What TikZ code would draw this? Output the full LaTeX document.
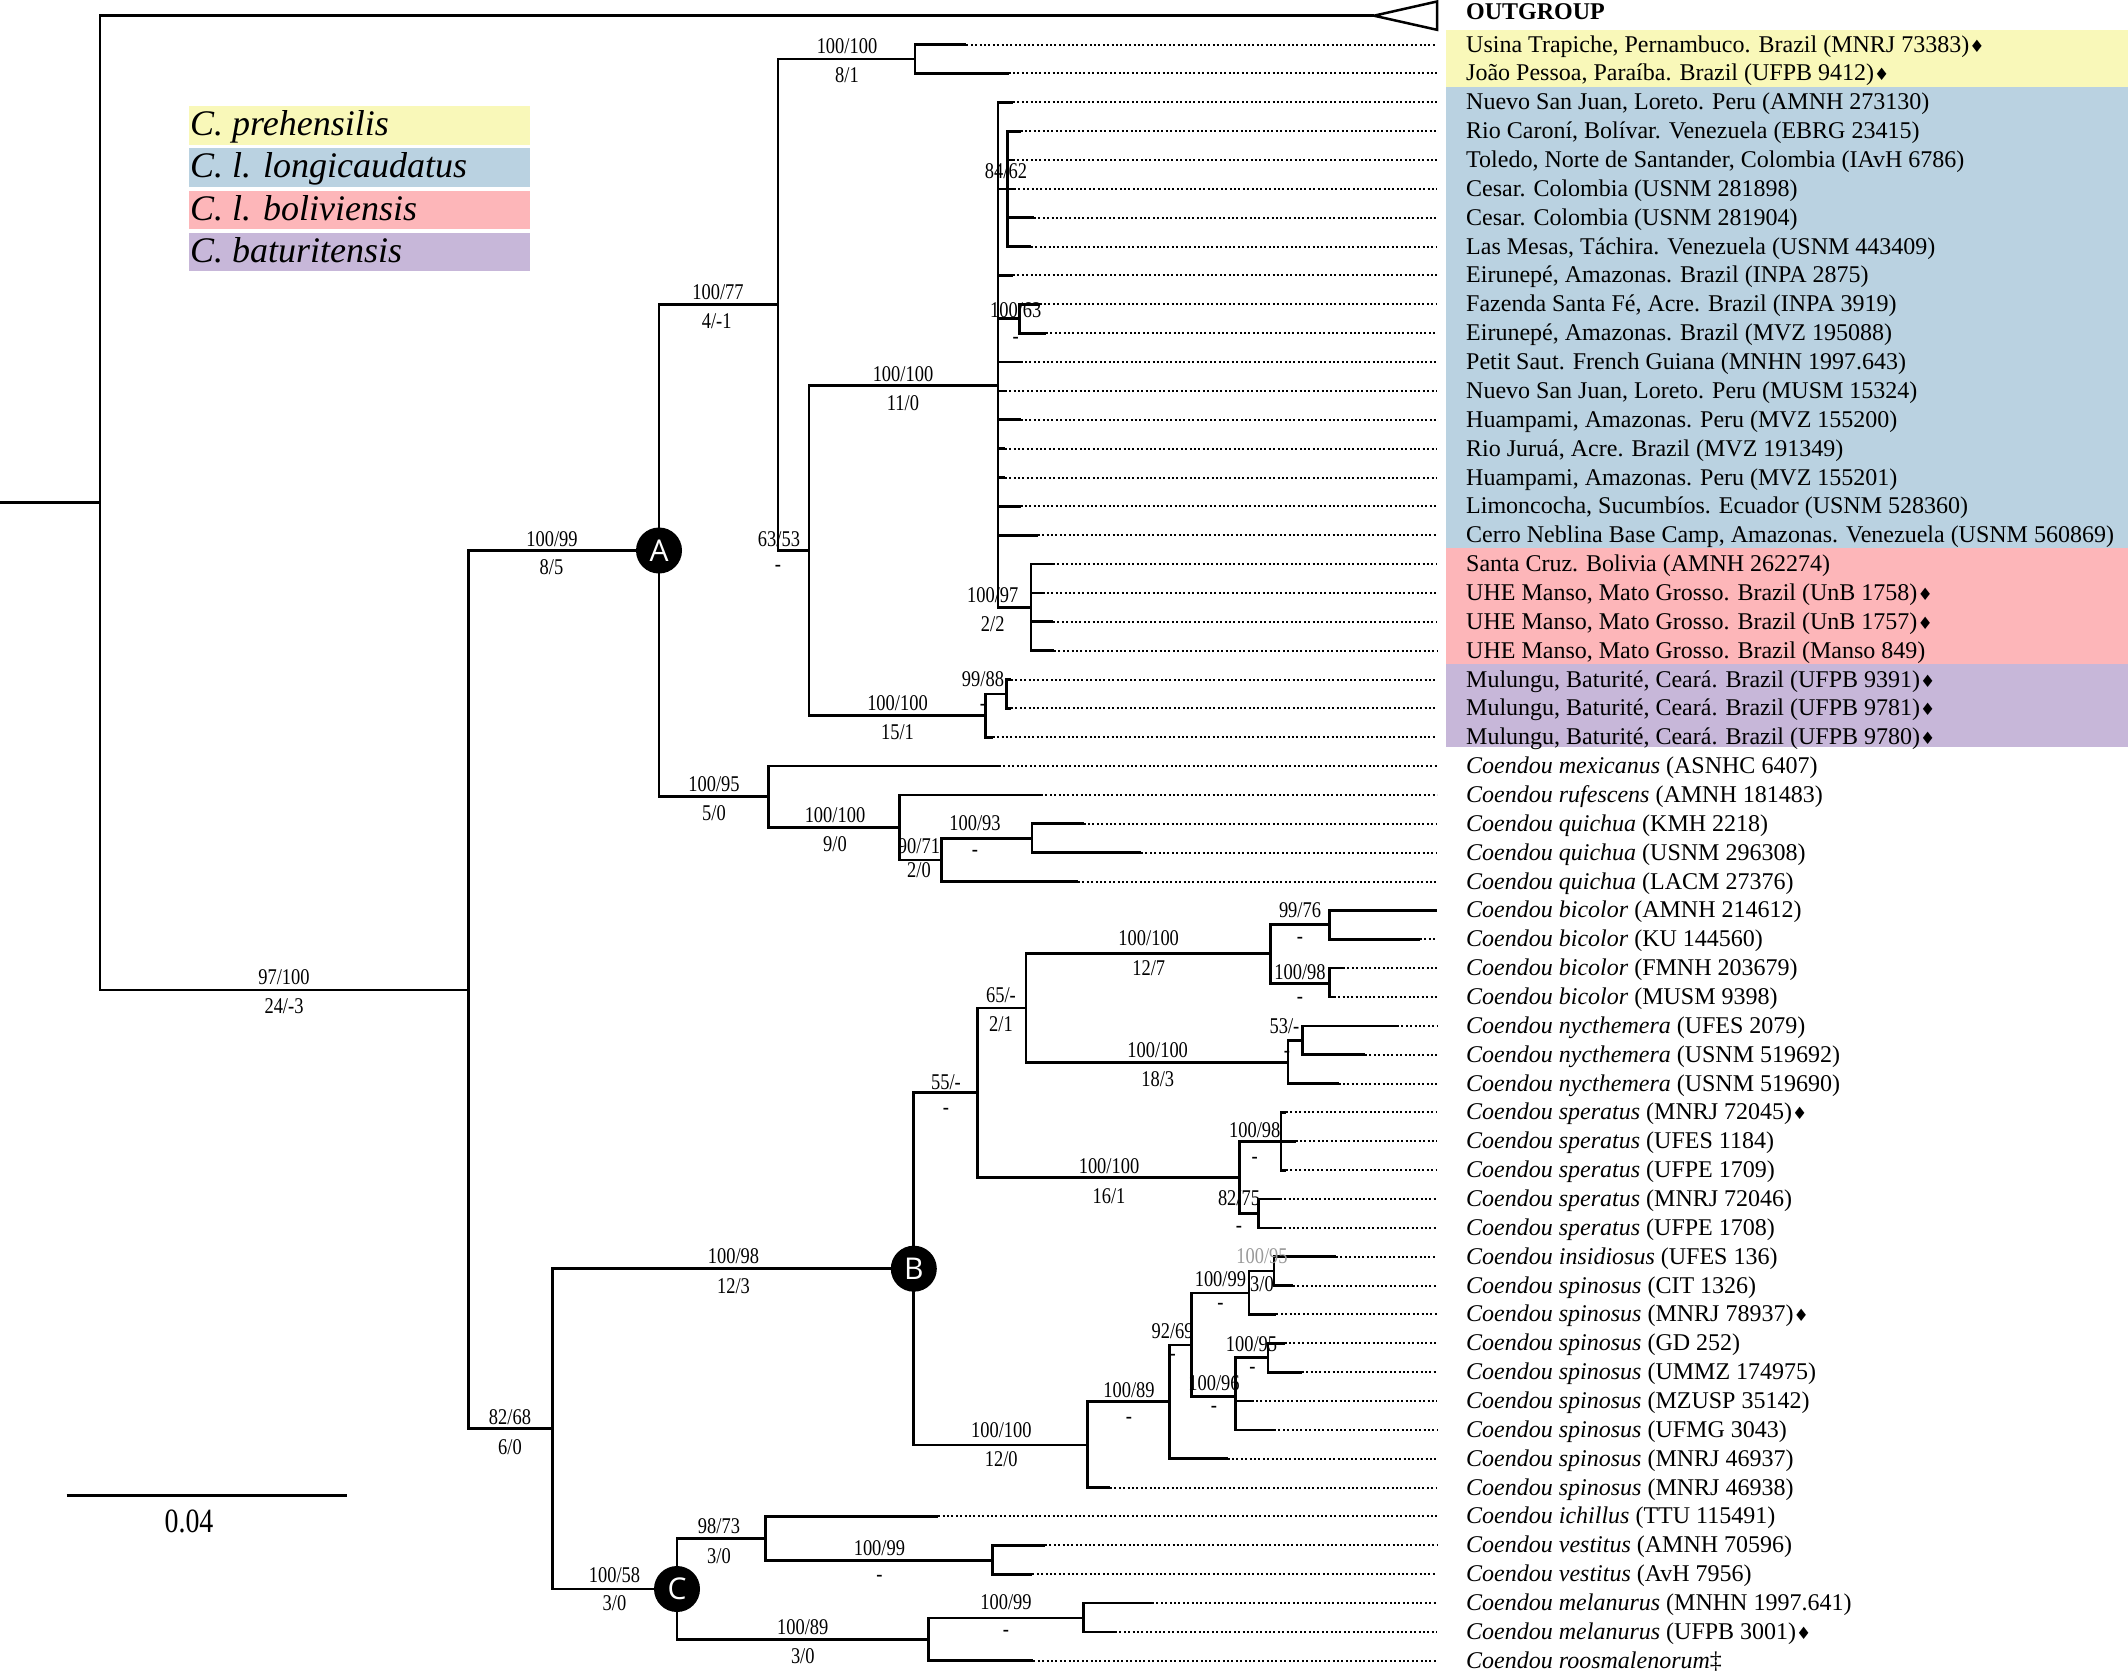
\documentclass[tikz,border=0pt]{standalone}
\usepackage{fontspec}
\setmainfont{Liberation Serif}
\newfontfamily\supf[FakeStretch=0.82]{Liberation Serif}
\newfontfamily\circf{Open Sans}
\newfontfamily\djv{DejaVu Sans}
\newcommand\dmd{{\djv\fontsize{17}{17}\selectfont ♦}}
\newcommand\ry[1]{44.6+28.86*(#1-1)}
\definecolor{cyel}{HTML}{F9F8B9}
\definecolor{cblu}{HTML}{BAD2E1}
\definecolor{cpnk}{HTML}{FDB6B9}
\definecolor{cpur}{HTML}{C7B7D9}
\tikzset{
  br/.style={line width=2.7pt, line join=miter},
  leader/.style={line width=2pt, dash pattern=on 2pt off 2.4pt},
  sup/.style={font=\supf\fontsize{22.5}{24}\selectfont, inner sep=0pt},
  tax/.style={font=\fontsize{24}{28}\selectfont, anchor=base west, inner sep=0pt},
  leg/.style={font=\itshape\fontsize{36}{40}\selectfont, anchor=base west, inner sep=0pt},
  legbox/.style={minimum width=341pt, minimum height=38.6pt, inner sep=0pt, draw=none},
  circ/.style={circle, fill=black, minimum size=46pt, inner sep=0pt, text=white, font=\circf\fontsize{30}{30}\selectfont}
}
\begin{document}
\begin{tikzpicture}[x=1pt,y=-1pt]
\useasboundingbox (0,0) rectangle (2128,1675);
% colour bands
\fill[cyel] (1446,30) rectangle (2128,87);
\fill[cblu] (1446,87) rectangle (2128,548);
\fill[cpnk] (1446,548) rectangle (2128,664);
\fill[cpur] (1446,664) rectangle (2128,747);
% legend
\node[legbox, fill=cyel] (lgP) at (359.5,125.3) {};
\node[legbox, fill=cblu] (lgL) at (359.5,167.5) {};
\node[legbox, fill=cpnk] (lgB) at (359.5,210) {};
\node[legbox, fill=cpur] (lgT) at (359.5,252) {};
\node[leg] (lgPt) at (190,135.7) {C. prehensilis};
\node[leg] (lgLt) at (190,177.9) {C. l. longicaudatus};
\node[leg] (lgBt) at (190,220.4) {C. l. boliviensis};
\node[leg] (lgTt) at (190,262.4) {C. baturitensis};
% internal nodes
\coordinate (base) at (0,502.8);
\coordinate (root) at (100,502.8);
\coordinate (og) at (1374,15.7);
\coordinate (nI) at (468.6,990);
\coordinate (nA) at (659,550.5);
\coordinate (n77) at (778,304.5);
\coordinate (nPre) at (915,59);
\coordinate (n53) at (809,550.5);
\coordinate (nLong) at (998,385.6);
\coordinate (n8462) at (1007.5,{\ry{6}});
\coordinate (n10063) at (1019.5,318.8);
\coordinate (n97) at (1031,607.4);
\coordinate (nBat) at (985.5,715.4);
\coordinate (n9988) at (1006.6,693.9);
\coordinate (n95) at (768.4,796.5);
\coordinate (nQ1) at (899.5,827.4);
\coordinate (n9071) at (941.5,860);
\coordinate (n10093) at (1032,838.6);
\coordinate (nBC) at (552.4,1428.7);
\coordinate (nB) at (913.8,1268.7);
\coordinate (n55) at (977.4,1092.7);
\coordinate (n65) at (1026,1008);
\coordinate (n127) at (1270.6,953.5);
\coordinate (n9976) at (1329.5,924.8);
\coordinate (n10098b) at (1329.5,983.3);
\coordinate (n183) at (1288,1062.5);
\coordinate (n53b) at (1302.7,1040.2);
\coordinate (n161) at (1239.5,1177.4);
\coordinate (n10098c) at (1281,{\ry{39}});
\coordinate (n8275) at (1258.7,1213.5);
\coordinate (n120) at (1087.4,1445);
\coordinate (n10089) at (1169.7,1401.8);
\coordinate (n9269) at (1191.7,1345);
\coordinate (n10099b) at (1249,1293);
\coordinate (n10095g) at (1274,1271);
\coordinate (n10096) at (1235.7,1396.8);
\coordinate (n10095) at (1268,1357.7);
\coordinate (nC) at (677,1589);
\coordinate (n9873) at (765.5,1538.5);
\coordinate (n10099c) at (992.7,1560.4);
\coordinate (n10089c) at (928.6,1639.5);
\coordinate (n10099d) at (1083.6,1618);
% tips and dotted leaders
\foreach \k/\x in {1/966.4,2/1008.5,3/1013,4/1020.5,5/1013,6/1014,7/1034,8/1031,9/1013,10/1039.6,11/1046,12/1020.5,13/1004.7,14/1020.5,15/1004.7,16/1004.7,17/1020.5,18/1037.7,19/1053,20/1042.5,21/1053,22/1054,23/1011,24/1011,25/992.7,26/999,27/1041,28/1083.6,29/1141,30/1078,31/1437,32/1420,33/1343,34/1333.7,35/1397,36/1365,37/1338.5,38/1286,39/1295.5,40/1286,41/1279.7,42/1279.7,43/1336,44/1293,45/1276.4,46/1284.5,47/1301.7,48/1251.5,49/1274,50/1227.6,51/1110,52/938.2,53/1045,54/1032.4,55/1152,56/1115,57/1033.4}{
  \coordinate (t\k) at (\x,{\ry{\k}});
  \coordinate (e\k) at (1437,{\ry{\k}});
  \draw[leader] (t\k) -- (e\k);
}
% branches
\draw[br] (base) -- (root);
\foreach \p/\c in {root/og,root/nI,nI/nA,nI/nBC,nA/n77,nA/n95,n77/nPre,n77/n53,nPre/t1,nPre/t2,
  n53/nLong,n53/nBat,nLong/t3,nLong/n8462,nLong/t9,nLong/n10063,nLong/t12,nLong/t13,nLong/t14,nLong/t15,nLong/t16,nLong/t17,nLong/t18,nLong/n97,
  n8462/t4,n8462/t5,n8462/t6,n8462/t7,n8462/t8,n10063/t10,n10063/t11,n97/t19,n97/t20,n97/t21,n97/t22,
  nBat/n9988,nBat/t25,n9988/t23,n9988/t24,n95/t26,n95/nQ1,nQ1/t27,nQ1/n9071,n9071/n10093,n9071/t30,n10093/t28,n10093/t29,
  nBC/nB,nBC/nC,nB/n55,nB/n120,n55/n65,n55/n161,n65/n127,n65/n183,n127/n9976,n127/n10098b,n9976/t31,n9976/t32,n10098b/t33,n10098b/t34,
  n183/n53b,n183/t37,n53b/t35,n53b/t36,n161/n10098c,n161/n8275,n10098c/t38,n10098c/t39,n10098c/t40,n8275/t41,n8275/t42,
  n120/n10089,n120/t51,n10089/n9269,n10089/t50,n9269/n10099b,n9269/n10096,n10099b/n10095g,n10099b/t45,n10095g/t43,n10095g/t44,
  n10096/n10095,n10096/t48,n10096/t49,n10095/t46,n10095/t47,
  nC/n9873,nC/n10089c,n9873/t52,n9873/n10099c,n10099c/t53,n10099c/t54,n10089c/n10099d,n10089c/t57,n10099d/t55,n10099d/t56}{
  \draw[br] (\p) |- (\c);
}
% outgroup triangle
\coordinate (ogT) at (1437,1.5);
\coordinate (ogB) at (1437,29.8);
\draw[line width=2.5pt, line join=miter, fill=white] (og) -- (ogT) -- (ogB) -- cycle;
% clade circles
\node[circ] (cA) at (nA) {A};
\node[circ] (cB) at (nB) {B};
\node[circ] (cC) at (nC) {C};
% scale bar
\coordinate (sb1) at (66.6,1495.5);
\coordinate (sb2) at (346.8,1495.5);
\draw[line width=2.7pt] (sb1) -- (sb2);
\node[sup, font=\supf\fontsize{34}{36}\selectfont] (sbl) at (189,1521) {0.04};
% support values
\node[sup] (s1) at (284,977) {97/100};
\node[sup] (s2) at (284,1006) {24/-3};
\node[sup] (s3) at (552,539) {100/99};
\node[sup] (s4) at (551.5,567.5) {8/5};
\node[sup] (s5) at (718,292.5) {100/77};
\node[sup] (s6) at (716.7,321.5) {4/-1};
\node[sup] (s7) at (847,46.4) {100/100};
\node[sup] (s8) at (847,75) {8/1};
\node[sup] (s9) at (779,539) {63/53};
\node[sup] (s10) at (778,568) {-};
\node[sup] (s11) at (903,373.8) {100/100};
\node[sup] (s12) at (903,403.4) {11/0};
\node[sup] (s13) at (1006,171.4) {84/62};
\node[sup] (s14) at (1015.7,310) {100/63};
\node[sup] (s15) at (1015.7,340) {-};
\node[sup] (s16) at (992.7,595.4) {100/97};
\node[sup] (s17) at (992.7,624.5) {2/2};
\node[sup] (s18) at (983,679) {99/88};
\node[sup] (s19) at (983,707) {-};
\node[sup] (s20) at (897.5,702.7) {100/100};
\node[sup] (s21) at (897.5,731.8) {15/1};
\node[sup] (s22) at (714,784.5) {100/95};
\node[sup] (s23) at (714,813.5) {5/0};
\node[sup] (s24) at (835,815.4) {100/100};
\node[sup] (s25) at (835,843.7) {9/0};
\node[sup] (s26) at (919,846) {90/71};
\node[sup] (s27) at (919,870.6) {2/0};
\node[sup] (s28) at (975,823.4) {100/93};
\node[sup] (s29) at (975,853.5) {-};
\node[sup] (s30) at (510,1417) {82/68};
\node[sup] (s31) at (510,1447) {6/0};
\node[sup] (s32) at (733.5,1256) {100/98};
\node[sup] (s33) at (733.5,1286) {12/3};
\node[sup] (s34) at (946,1082) {55/-};
\node[sup] (s35) at (946,1111.6) {-};
\node[sup] (s36) at (1001,995) {65/-};
\node[sup] (s37) at (1001,1024) {2/1};
\node[sup] (s38) at (1148.7,938) {100/100};
\node[sup] (s39) at (1148.7,968) {12/7};
\node[sup] (s40) at (1300,910.6) {99/76};
\node[sup] (s41) at (1300,940.8) {-};
\node[sup] (s42) at (1300,971.7) {100/98};
\node[sup] (s43) at (1300,1000.7) {-};
\node[sup] (s44) at (1157.7,1049.8) {100/100};
\node[sup] (s45) at (1157.7,1079) {18/3};
\node[sup] (s46) at (1284.5,1026) {53/-};
\node[sup] (s47) at (1287,1054) {-};
\node[sup] (s48) at (1109,1166) {100/100};
\node[sup] (s49) at (1109,1195.8) {16/1};
\node[sup] (s50) at (1254.8,1129.8) {100/98};
\node[sup] (s51) at (1254.8,1160.4) {-};
\node[sup] (s52) at (1239,1198.3) {82/75};
\node[sup] (s53) at (1239,1229) {-};
\node[sup] (s54) at (1001.3,1430) {100/100};
\node[sup] (s55) at (1001.3,1458.8) {12/0};
\node[sup] (s56) at (1129,1390.3) {100/89};
\node[sup] (s57) at (1129,1420) {-};
\node[sup] (s58) at (1172.6,1331.6) {92/69};
\node[sup] (s59) at (1172.6,1357.9) {-};
\node[sup] (s60) at (1220.4,1279.3) {100/99};
\node[sup] (s61) at (1220.4,1306.4) {-};
\node[sup, text=black!40] (s62) at (1262,1256.6) {100/95};
\node[sup] (s63) at (1262,1283.7) {3/0};
\node[sup] (s64) at (1214,1383) {100/96};
\node[sup] (s65) at (1214,1409) {-};
\node[sup] (s66) at (1251.5,1344) {100/95};
\node[sup] (s67) at (1252.4,1370) {-};
\node[sup] (s68) at (614.5,1575) {100/58};
\node[sup] (s69) at (614.5,1603.6) {3/0};
\node[sup] (s70) at (719,1526) {98/73};
\node[sup] (s71) at (719,1556) {3/0};
\node[sup] (s72) at (879.4,1547.8) {100/99};
\node[sup] (s73) at (879.4,1578.4) {-};
\node[sup] (s74) at (802.8,1627) {100/89};
\node[sup] (s75) at (802.8,1656) {3/0};
\node[sup] (s76) at (1006,1601.8) {100/99};
\node[sup] (s77) at (1006,1633) {-};
% taxon labels
\node[tax, font=\bfseries\fontsize{24}{28}\selectfont] (l0) at (1466,20) {OUTGROUP};
\node[tax] (l1) at (1466,{\ry{1}+7.5}) {Usina Trapiche, Pernambuco. Brazil (MNRJ 73383)\dmd};
\node[tax] (l2) at (1466,{\ry{2}+7.5}) {João Pessoa, Paraíba. Brazil (UFPB 9412)\dmd};
\node[tax] (l3) at (1466,{\ry{3}+7.5}) {Nuevo San Juan, Loreto. Peru (AMNH 273130)};
\node[tax] (l4) at (1466,{\ry{4}+7.5}) {Rio Caroní, Bolívar. Venezuela (EBRG 23415)};
\node[tax] (l5) at (1466,{\ry{5}+7.5}) {Toledo, Norte de Santander, Colombia (IAvH 6786)};
\node[tax] (l6) at (1466,{\ry{6}+7.5}) {Cesar. Colombia (USNM 281898)};
\node[tax] (l7) at (1466,{\ry{7}+7.5}) {Cesar. Colombia (USNM 281904)};
\node[tax] (l8) at (1466,{\ry{8}+7.5}) {Las Mesas, Táchira. Venezuela (USNM 443409)};
\node[tax] (l9) at (1466,{\ry{9}+7.5}) {Eirunepé, Amazonas. Brazil (INPA 2875)};
\node[tax] (l10) at (1466,{\ry{10}+7.5}) {Fazenda Santa Fé, Acre. Brazil (INPA 3919)};
\node[tax] (l11) at (1466,{\ry{11}+7.5}) {Eirunepé, Amazonas. Brazil (MVZ 195088)};
\node[tax] (l12) at (1466,{\ry{12}+7.5}) {Petit Saut. French Guiana (MNHN 1997.643)};
\node[tax] (l13) at (1466,{\ry{13}+7.5}) {Nuevo San Juan, Loreto. Peru (MUSM 15324)};
\node[tax] (l14) at (1466,{\ry{14}+7.5}) {Huampami, Amazonas. Peru (MVZ 155200)};
\node[tax] (l15) at (1466,{\ry{15}+7.5}) {Rio Juruá, Acre. Brazil (MVZ 191349)};
\node[tax] (l16) at (1466,{\ry{16}+7.5}) {Huampami, Amazonas. Peru (MVZ 155201)};
\node[tax] (l17) at (1466,{\ry{17}+7.5}) {Limoncocha, Sucumbíos. Ecuador (USNM 528360)};
\node[tax] (l18) at (1466,{\ry{18}+7.5}) {Cerro Neblina Base Camp, Amazonas. Venezuela (USNM 560869)};
\node[tax] (l19) at (1466,{\ry{19}+7.5}) {Santa Cruz. Bolivia (AMNH 262274)};
\node[tax] (l20) at (1466,{\ry{20}+7.5}) {UHE Manso, Mato Grosso. Brazil (UnB 1758)\dmd};
\node[tax] (l21) at (1466,{\ry{21}+7.5}) {UHE Manso, Mato Grosso. Brazil (UnB 1757)\dmd};
\node[tax] (l22) at (1466,{\ry{22}+7.5}) {UHE Manso, Mato Grosso. Brazil (Manso 849)};
\node[tax] (l23) at (1466,{\ry{23}+7.5}) {Mulungu, Baturité, Ceará. Brazil (UFPB 9391)\dmd};
\node[tax] (l24) at (1466,{\ry{24}+7.5}) {Mulungu, Baturité, Ceará. Brazil (UFPB 9781)\dmd};
\node[tax] (l25) at (1466,{\ry{25}+7.5}) {Mulungu, Baturité, Ceará. Brazil (UFPB 9780)\dmd};
\node[tax] (l26) at (1466,{\ry{26}+7.5}) {\textit{Coendou mexicanus} (ASNHC 6407)};
\node[tax] (l27) at (1466,{\ry{27}+7.5}) {\textit{Coendou rufescens} (AMNH 181483)};
\node[tax] (l28) at (1466,{\ry{28}+7.5}) {\textit{Coendou quichua} (KMH 2218)};
\node[tax] (l29) at (1466,{\ry{29}+7.5}) {\textit{Coendou quichua} (USNM 296308)};
\node[tax] (l30) at (1466,{\ry{30}+7.5}) {\textit{Coendou quichua} (LACM 27376)};
\node[tax] (l31) at (1466,{\ry{31}+7.5}) {\textit{Coendou bicolor} (AMNH 214612)};
\node[tax] (l32) at (1466,{\ry{32}+7.5}) {\textit{Coendou bicolor} (KU 144560)};
\node[tax] (l33) at (1466,{\ry{33}+7.5}) {\textit{Coendou bicolor} (FMNH 203679)};
\node[tax] (l34) at (1466,{\ry{34}+7.5}) {\textit{Coendou bicolor} (MUSM 9398)};
\node[tax] (l35) at (1466,{\ry{35}+7.5}) {\textit{Coendou nycthemera} (UFES 2079)};
\node[tax] (l36) at (1466,{\ry{36}+7.5}) {\textit{Coendou nycthemera} (USNM 519692)};
\node[tax] (l37) at (1466,{\ry{37}+7.5}) {\textit{Coendou nycthemera} (USNM 519690)};
\node[tax] (l38) at (1466,{\ry{38}+7.5}) {\textit{Coendou speratus} (MNRJ 72045)\dmd};
\node[tax] (l39) at (1466,{\ry{39}+7.5}) {\textit{Coendou speratus} (UFES 1184)};
\node[tax] (l40) at (1466,{\ry{40}+7.5}) {\textit{Coendou speratus} (UFPE 1709)};
\node[tax] (l41) at (1466,{\ry{41}+7.5}) {\textit{Coendou speratus} (MNRJ 72046)};
\node[tax] (l42) at (1466,{\ry{42}+7.5}) {\textit{Coendou speratus} (UFPE 1708)};
\node[tax] (l43) at (1466,{\ry{43}+7.5}) {\textit{Coendou insidiosus} (UFES 136)};
\node[tax] (l44) at (1466,{\ry{44}+7.5}) {\textit{Coendou spinosus} (CIT 1326)};
\node[tax] (l45) at (1466,{\ry{45}+7.5}) {\textit{Coendou spinosus} (MNRJ 78937)\dmd};
\node[tax] (l46) at (1466,{\ry{46}+7.5}) {\textit{Coendou spinosus} (GD 252)};
\node[tax] (l47) at (1466,{\ry{47}+7.5}) {\textit{Coendou spinosus} (UMMZ 174975)};
\node[tax] (l48) at (1466,{\ry{48}+7.5}) {\textit{Coendou spinosus} (MZUSP 35142)};
\node[tax] (l49) at (1466,{\ry{49}+7.5}) {\textit{Coendou spinosus} (UFMG 3043)};
\node[tax] (l50) at (1466,{\ry{50}+7.5}) {\textit{Coendou spinosus} (MNRJ 46937)};
\node[tax] (l51) at (1466,{\ry{51}+7.5}) {\textit{Coendou spinosus} (MNRJ 46938)};
\node[tax] (l52) at (1466,{\ry{52}+7.5}) {\textit{Coendou ichillus} (TTU 115491)};
\node[tax] (l53) at (1466,{\ry{53}+7.5}) {\textit{Coendou vestitus} (AMNH 70596)};
\node[tax] (l54) at (1466,{\ry{54}+7.5}) {\textit{Coendou vestitus} (AvH 7956)};
\node[tax] (l55) at (1466,{\ry{55}+7.5}) {\textit{Coendou melanurus} (MNHN 1997.641)};
\node[tax] (l56) at (1466,{\ry{56}+7.5}) {\textit{Coendou melanurus} (UFPB 3001)\dmd};
\node[tax] (l57) at (1466,{\ry{57}+7.5}) {\textit{Coendou roosmalenorum}‡};
\end{tikzpicture}
\end{document}
